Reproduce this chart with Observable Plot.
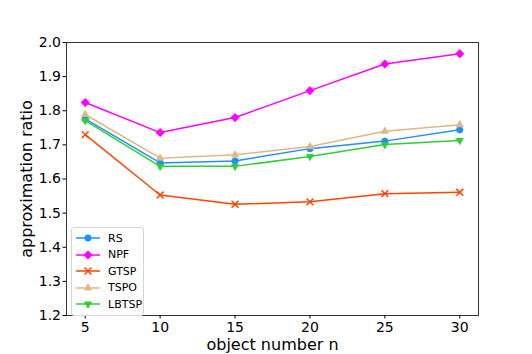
<!DOCTYPE html>
<html><head><meta charset="utf-8">
<script src="https://cdn.jsdelivr.net/npm/d3@7"></script>
<script src="https://cdn.jsdelivr.net/npm/@observablehq/plot@0.6"></script>
<style>
body{margin:0;background:#fff;font-family:"DejaVu Sans",sans-serif;}
#wrap{position:relative;width:532px;height:354px;}
#wrap svg [aria-label="x-axis label"], #wrap svg [aria-label="y-axis label"]{font-size:16px;}
#legend{position:absolute;left:71px;top:227px;width:71px;padding:2px 0 2px 0;border:1px solid #d5d5d5;border-radius:3px;background:rgba(255,255,255,0.85);font-size:11px;color:#000;}
#legend .row{display:flex;align-items:center;height:16.5px;}
#legend svg{display:block;margin-left:3px;margin-right:7px;}
</style></head>
<body><div id="wrap"><div id="legend"></div></div>
<script>
const n = [5, 10, 15, 20, 25, 30];
const seriesNames = ["RS", "NPF", "GTSP", "TSPO", "LBTSP"];
const RS    = [1.776, 1.647, 1.653, 1.689, 1.711, 1.744];
const NPF   = [1.824, 1.736, 1.780, 1.859, 1.937, 1.967];
const GTSP  = [1.730, 1.553, 1.526, 1.533, 1.557, 1.561];
const TSPO  = [1.789, 1.661, 1.671, 1.695, 1.740, 1.759];
const LBTSP = [1.771, 1.637, 1.637, 1.666, 1.701, 1.713];
const yTicks = [1.2, 1.3, 1.4, 1.5, 1.6, 1.7, 1.8, 1.9, 2.0];
const colors = ["#1e90ff", "#ff00ff", "#ff4500", "#deb887", "#32cd32"];

const R = s => Math.sqrt(s / Math.PI);
const diamond = {draw(c, s){const r = R(s)*1.3; c.moveTo(0,-r); c.lineTo(r,0); c.lineTo(0,r); c.lineTo(-r,0); c.closePath();}};
const triUp = {draw(c, s){const r = R(s)*1.3; c.moveTo(0,-r); c.lineTo(r*0.866,r*0.5); c.lineTo(-r*0.866,r*0.5); c.closePath();}};
const triDown = {draw(c, s){const r = R(s)*1.3; c.moveTo(0,r); c.lineTo(r*0.866,-r*0.5); c.lineTo(-r*0.866,-r*0.5); c.closePath();}};
const symbols = ["circle", diamond, "times", triUp, triDown];
const filled = [true, true, false, true, true];

const valuesBy = {RS, NPF, GTSP, TSPO, LBTSP};
const data = seriesNames.flatMap(s => n.map((x, i) => ({series: s, n: x, v: valuesBy[s][i]})));

const marks = [Plot.frame({stroke: "#333", strokeWidth: 1})];
seriesNames.forEach((s, k) => {
  const d = data.filter(e => e.series === s);
  marks.push(Plot.line(d, {x: "n", y: "v", stroke: colors[k], strokeWidth: 1.5}));
  marks.push(Plot.dot(d, {x: "n", y: "v", r: 3.2, symbol: symbols[k],
    fill: filled[k] ? colors[k] : "none", stroke: colors[k], strokeWidth: filled[k] ? 0.8 : 1.5}));
});
marks.push(Plot.axisX({ticks: n, tickSize: 3.5, tickPadding: 3, label: "object number n", labelAnchor: "center", labelOffset: 34, labelArrow: false}));
marks.push(Plot.axisY({ticks: yTicks, tickSize: 3.5, tickPadding: 2, tickFormat: d3.format(".1f"), label: "approximation ratio", labelAnchor: "center", labelOffset: 46, labelArrow: false}));

const chart = Plot.plot({
  width: 532, height: 354,
  marginLeft: 66, marginRight: 54, marginTop: 42, marginBottom: 39,
  x: {domain: [3.75, 31.25]},
  y: {domain: [1.2, 2.0]},
  style: {fontFamily: "DejaVu Sans", fontSize: "14px", color: "#000", background: "#fff", overflow: "visible"},
  marks
});
document.getElementById("wrap").prepend(chart);

const legend = d3.select("#legend");
seriesNames.forEach((s, k) => {
  const row = legend.append("div").attr("class", "row");
  const svg = row.append("svg").attr("width", 26).attr("height", 12);
  svg.append("line").attr("x1", 1).attr("x2", 25).attr("y1", 6).attr("y2", 6).attr("stroke", colors[k]).attr("stroke-width", 1.5);
  const type = typeof symbols[k] === "string" ? (symbols[k] === "circle" ? d3.symbolCircle : d3.symbolTimes) : symbols[k];
  svg.append("path").attr("transform", "translate(13,6)").attr("d", d3.symbol(type, 3.2*3.2*Math.PI)())
    .attr("fill", filled[k] ? colors[k] : "none").attr("stroke", colors[k]).attr("stroke-width", filled[k] ? 0.8 : 1.5);
  row.append("span").text(s);
});
</script></body></html>
